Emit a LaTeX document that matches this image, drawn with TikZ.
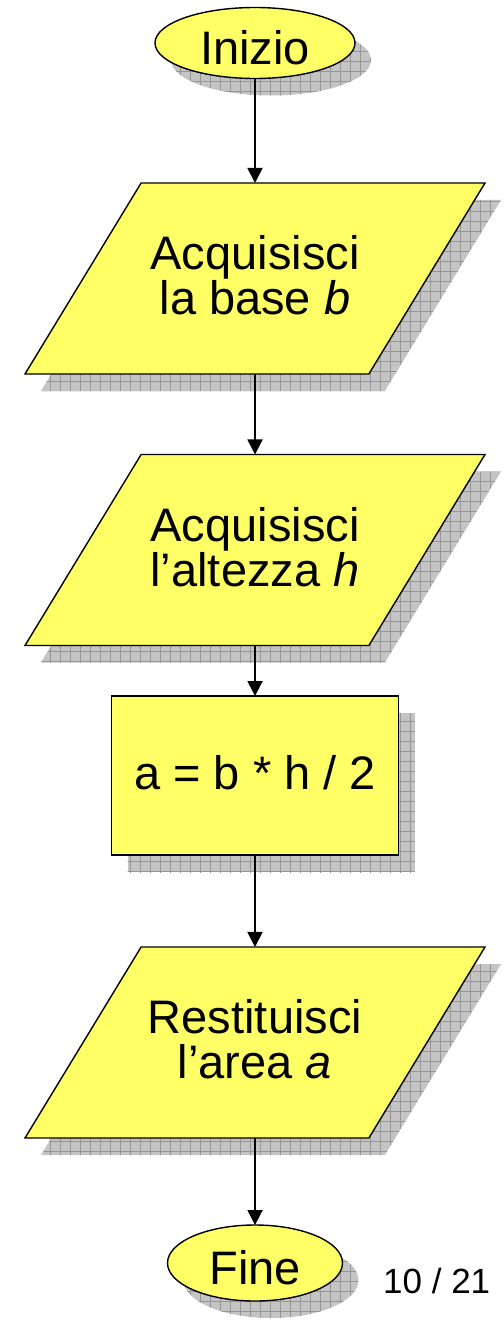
\documentclass[tikz,border=0pt]{standalone}
\usepackage{fontspec}
\setmainfont{Liberation Sans}
\usetikzlibrary{shapes.geometric,shadows,patterns.meta,arrows.meta}
\definecolor{fyellow}{RGB}{255,255,102}
\definecolor{shgray}{RGB}{196,196,196}
\definecolor{shline}{RGB}{150,150,150}
\newcommand{\iotext}[1]{\parbox[c][191pt][c]{220pt}{\centering #1\par\vspace{6pt}}}
\begin{document}
\begin{tikzpicture}[x=1pt,y=-1pt,
  base/.style={draw=black, line width=1.4pt, fill=fyellow, inner sep=0pt, outer sep=0pt,
     font=\fontsize{47}{45}\selectfont, align=center,
     drop shadow={shadow xshift=16pt, shadow yshift=-17pt, opacity=1, fill=shgray},
     drop shadow={shadow xshift=16pt, shadow yshift=-17pt, opacity=1,
        pattern={Hatch[angle=0,distance=10pt,line width=0.8pt]}, pattern color=shline}},
  term/.style={base, ellipse},
  io/.style={base, trapezium, trapezium left angle=58.7, trapezium right angle=121.3,
     trapezium stretches body, minimum width=460pt, minimum height=191pt},
  proc/.style={base, rectangle, minimum width=287pt, minimum height=159pt},
  flow/.style={line width=1.9pt, -{Triangle[length=15pt,width=15pt]}}
]
\useasboundingbox (0,0) rectangle (503,1321);

\node[term, minimum width=200pt, minimum height=71pt, text height=44pt, text depth=0pt] (start) at (255,43) {Inizio};
\node[io] (in1) at (255,278.5) {\iotext{Acquisisci\\la base \textit{b}}};
\node[io] (in2) at (255,550) {\iotext{Acquisisci\\l’altezza \textit{h}}};
\node[proc, text height=27pt, text depth=0pt] (calc) at (255,775.5) {a = b * h / 2};
\node[io] (out) at (255,1042.5) {\iotext{Restituisci\\l’area \textit{a}}};
\node[term, minimum width=175pt, minimum height=76pt, text height=42pt, text depth=0pt] (end) at (255,1263) {Fine};
\node[font=\fontsize{35}{40}\selectfont, anchor=base west, inner sep=0pt] (page) at (383,1293) {10 / 21};

\draw[flow] (start.south) -- (start.south |- in1.north);
\draw[flow] (in1.south) -- (in1.south |- in2.north);
\draw[flow] (in2.south) -- (in2.south |- calc.north);
\draw[flow] (calc.south) -- (calc.south |- out.north);
\draw[flow] (out.south) -- (out.south |- end.north);
\end{tikzpicture}
\end{document}
